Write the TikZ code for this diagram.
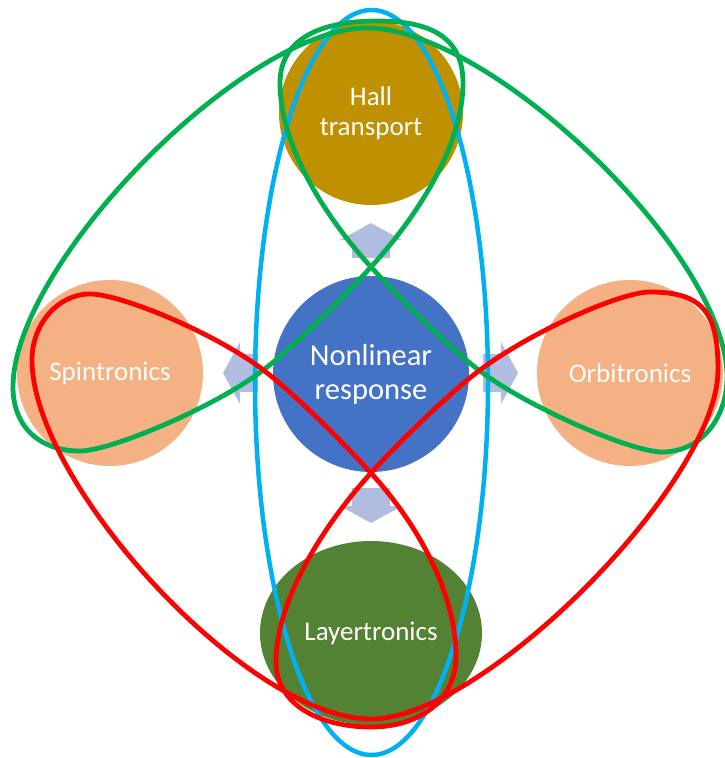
\documentclass[tikz,border=0pt]{standalone}
\usepackage{fontspec}
\setmainfont{Carlito}
\usetikzlibrary{shapes.geometric}
\definecolor{hallgold}{HTML}{BF9000}
\definecolor{coreblue}{HTML}{4472C4}
\definecolor{peach}{HTML}{F4B183}
\definecolor{layergreen}{HTML}{548235}
\definecolor{arrowfill}{HTML}{B0BDE0}
\definecolor{ringblue}{HTML}{00B0F0}
\definecolor{loopgreen}{HTML}{00B050}
\definecolor{loopred}{HTML}{FF0000}
\begin{document}
\begin{tikzpicture}[x=1pt,y=-1pt,
  topic/.style={circle,inner sep=0pt,text=white,align=center,
    font=\fontsize{27}{30}\selectfont},
  loopline/.style={line width=4.8pt,line join=round},
  pics/blockarrow/.style={code={
    \fill[arrowfill] (0,-19) -- (18,-19) -- (18,-31) -- (35,0)
      -- (18,31) -- (18,19) -- (0,19) -- cycle;}}]
\useasboundingbox (0,0) rectangle (725,758);

% topic discs
\node[topic,fill=hallgold,minimum size=184pt] (hall) at (371,113)
  {Hall\\transport};
\node[topic,fill=coreblue,minimum size=196pt,
  font=\fontsize{30.5}{34}\selectfont] (core) at (371,374)
  {Nonlinear\\response};
\node[topic,fill=peach,minimum size=186pt] (spin) at (110,373) {Spintronics};
\node[topic,fill=peach,minimum size=186pt] (orbit) at (630,373) {Orbitronics};
\node[topic,ellipse,fill=layergreen,minimum width=222pt,minimum height=184pt]
  (layer) at (371,633) {Layertronics};

% block arrows pointing outward from the core
\pic[rotate=90]  at (371,258) {blockarrow};
\pic[rotate=-90] at (371,488) {blockarrow};
\pic[rotate=180] at (258,373) {blockarrow};
\pic             at (483,373) {blockarrow};

% vertical ring
\draw[loopline,line width=4.5pt,ringblue] (371.5,382.5)
  ellipse [x radius=116.5,y radius=372.5];

% green loop: Hall transport with spin and orbit lobes
\draw[loopline,loopgreen] (367,28)
  .. controls (244,28) and (13,264) .. (13,387)
  .. controls (13,427) and (40,451) .. (80,451)
  .. controls (110,451) and (212,408.5) .. (262,371)
  .. controls (292,348.5) and (341,300) .. (371,267)
  .. controls (421,212) and (463,143) .. (463,83)
  .. controls (463,38) and (432,21) .. (377,21)
  .. controls (322,21) and (280,38) .. (280,83)
  .. controls (280,143) and (321,212) .. (371,267)
  .. controls (401,300) and (450,348.5) .. (480,371)
  .. controls (530,408.5) and (632,452) .. (662,452)
  .. controls (702,452) and (727,417) .. (727,377)
  .. controls (727,254) and (490,28) .. (367,28) -- cycle;

% red loop: Layertronics with spin and orbit lobes
\draw[loopline,loopred] (371,719)
  .. controls (248,719) and (32,483) .. (32,360)
  .. controls (32,324) and (58,294) .. (90,294)
  .. controls (120,294) and (212,331.5) .. (262,369)
  .. controls (292,391.5) and (341,440) .. (371,473)
  .. controls (421,528) and (456,596) .. (456,656)
  .. controls (456,700) and (420,727) .. (371,727)
  .. controls (322,727) and (276,706) .. (276,662)
  .. controls (276,602) and (321,528) .. (371,473)
  .. controls (401,440) and (450,392.5) .. (480,370)
  .. controls (530,332.5) and (620,292) .. (650,292)
  .. controls (705,292) and (718,315) .. (718,370)
  .. controls (718,482) and (483,719) .. (371,719) -- cycle;
\end{tikzpicture}
\end{document}
